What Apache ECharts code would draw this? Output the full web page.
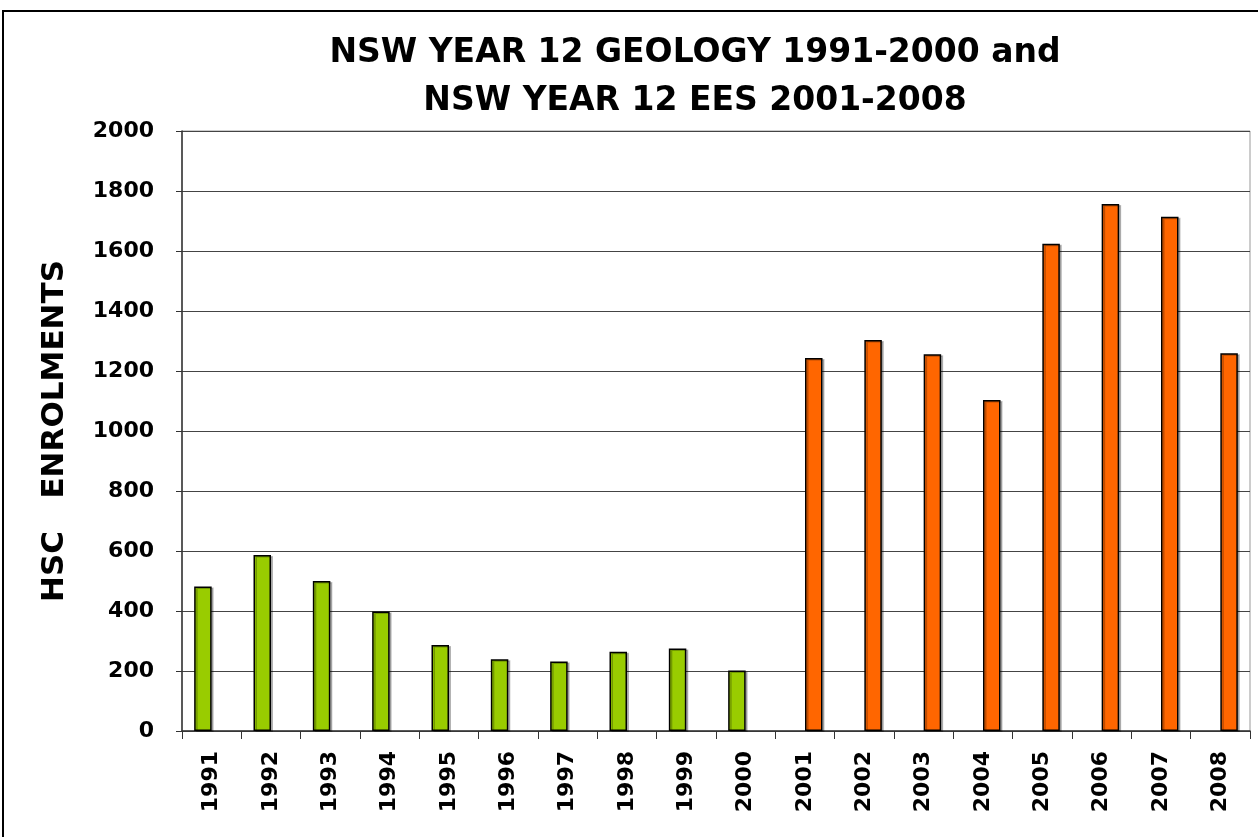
<!DOCTYPE html>
<html>
<head>
<meta charset="utf-8">
<script src="https://cdn.jsdelivr.net/npm/echarts@6/dist/echarts.min.js"></script>
<style>
html,body{margin:0;padding:0;background:#fff;}
#chart{width:1258px;height:837px;}
</style>
</head>
<body>
<div id="chart"></div>
<script>
const years = ['1991','1992','1993','1994','1995','1996','1997','1998','1999','2000','2001','2002','2003','2004','2005','2006','2007','2008'];
const geologyValues = [482, 587, 500, 398, 287, 239, 232, 264, 275, 202];
const eesValues = [1243, 1303, 1256, 1103, 1624, 1757, 1714, 1259];
const titleLines = ['NSW YEAR 12 GEOLOGY 1991-2000 and', 'NSW YEAR 12 EES 2001-2008'];
const yAxisTitle = 'HSC   ENROLMENTS';

const geoData = years.map((y, i) => i < geologyValues.length ? geologyValues[i] : '-');
const eesData = years.map((y, i) => i >= geologyValues.length ? eesValues[i - geologyValues.length] : '-');

const FONT = 'DejaVu Sans';
const chart = echarts.init(document.getElementById('chart'), null, {renderer: 'canvas'});
const barStyle = (c) => ({
  color: c, borderColor: '#000', borderWidth: 1.5,
  shadowColor: 'rgba(0,0,0,0.25)', shadowOffsetX: 2, shadowOffsetY: 1, shadowBlur: 0
});
chart.setOption({
  animation: false,
  backgroundColor: '#fff',
  title: {
    text: titleLines.join('\n'),
    left: 690, top: 24, textAlign: 'center',
    textStyle: {fontFamily: FONT, fontWeight: 'bold', fontSize: 33, color: '#000', lineHeight: 48}
  },
  graphic: [{
    type: 'rect', shape: {x: 3, y: 11, width: 1400, height: 1000},
    style: {fill: 'none', stroke: '#000', lineWidth: 2}, silent: true, z: 100
  }],
  grid: {left: 182, right: 8, top: 131, bottom: 106, show: true, borderColor: '#999', borderWidth: 1},
  xAxis: {
    type: 'category', data: years, boundaryGap: true,
    axisLine: {lineStyle: {color: '#333', width: 1.5}},
    axisTick: {show: true, length: 8, lineStyle: {color: '#333'}},
    axisLabel: {rotate: 90, margin: 20, fontFamily: FONT, fontWeight: 'bold', fontSize: 22, color: '#000'}
  },
  yAxis: {
    type: 'value', min: 0, max: 2000, interval: 200,
    name: yAxisTitle, nameLocation: 'middle', nameRotate: 90, nameGap: 112,
    nameTextStyle: {fontFamily: FONT, fontWeight: 'bold', fontSize: 31, color: '#000'},
    axisLine: {show: true, lineStyle: {color: '#333', width: 1.5}},
    axisTick: {show: true, length: 6, lineStyle: {color: '#333'}},
    axisLabel: {margin: 28, formatter: (v) => String(v), fontFamily: FONT, fontWeight: 'bold', fontSize: 22, color: '#000'},
    splitLine: {show: true, lineStyle: {color: '#444', width: 1}}
  },
  series: [
    {name: 'Geology', type: 'bar', data: geoData, barWidth: 17.5, barGap: '0%', itemStyle: barStyle('#99CC00')},
    {name: 'EES', type: 'bar', data: eesData, barWidth: 17.5, barGap: '0%', itemStyle: barStyle('#FF6600')}
  ]
});
</script>
</body>
</html>
